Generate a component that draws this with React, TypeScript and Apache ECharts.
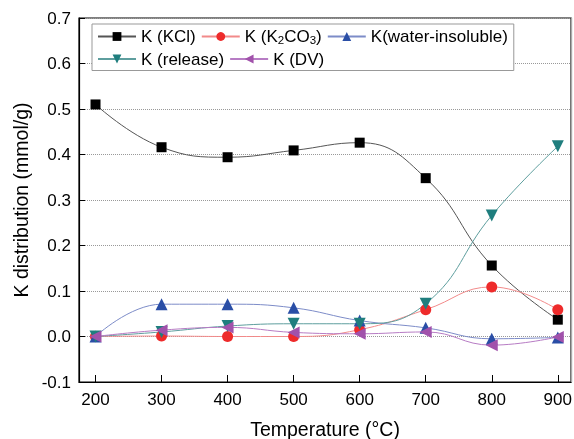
import React, { useEffect, useRef } from "react";
import * as echarts from "echarts";

const temperatures = [200, 300, 400, 500, 600, 700, 800, 900];
const xTicks = [200, 300, 400, 500, 600, 700, 800, 900];
const kKCl = [0.51, 0.416, 0.394, 0.409, 0.426, 0.348, 0.156, 0.037];
const kK2CO3 = [0.0, 0.001, 0.0, 0.0, 0.015, 0.059, 0.109, 0.059];
const kWaterInsoluble = [0.0, 0.071, 0.071, 0.063, 0.035, 0.019, -0.005, -0.002];
const kRelease = [0.0, 0.01, 0.023, 0.028, 0.028, 0.072, 0.266, 0.418];
const kDV = [0.0, 0.014, 0.02, 0.009, 0.006, 0.01, -0.019, -0.001];

const FONT = "'Liberation Sans', Arial, sans-serif";

function pairs(ys: number[]) {
  return temperatures.map((t, i) => [t, ys[i]]);
}

export default function App() {
  const ref = useRef<HTMLDivElement>(null);
  useEffect(() => {
    if (!ref.current) return;
    const chart = echarts.init(ref.current, null, { renderer: "svg" });
    const mk = (
      name: string,
      data: number[],
      lineColor: string,
      markColor: string,
      symbol: string,
      size: number,
      rotate = 0
    ) => ({
      name,
      type: "line",
      data: pairs(data),
      smooth: 0.45,
      symbol,
      symbolSize: size,
      symbolRotate: rotate,
      showAllSymbol: true,
      lineStyle: { color: lineColor, width: 1 },
      itemStyle: { color: markColor, borderWidth: 0 },
      xAxisIndex: 0,
      yAxisIndex: 0,
    });
    chart.setOption({
      animation: false,
      textStyle: { fontFamily: FONT },
      grid: {
        left: 79,
        right: 3,
        top: 18,
        bottom: 57,
        containLabel: false,
        outerBoundsMode: "none",
        show: true,
        borderColor: "#000",
        borderWidth: 1.2,
        backgroundColor: "transparent",
      },
      legend: {
        left: 92,
        top: 24,
        width: 425,
        padding: [4, 6, 3, 5],
        itemGap: 5,
        itemWidth: 38,
        itemHeight: 11,
        borderColor: "#999",
        borderWidth: 1,
        backgroundColor: "#fff",
        textStyle: {
          fontFamily: FONT,
          fontSize: 17,
          color: "#000",
          rich: {
            sub: { fontFamily: FONT, fontSize: 11.5, color: "#000", padding: [6, 0, 0, 0] },
          },
        },
        formatter: (name: string) =>
          name === "K (K2CO3)" ? "K (K{sub|2}CO{sub|3})" : name,
        data: ["K (KCl)", "K (K2CO3)", "K(water-insoluble)", "K (release)", "K (DV)"],
      },
      xAxis: [
        {
          type: "value",
          min: 175,
          max: 920,
          position: "bottom",
          name: "Temperature (°C)",
          nameLocation: "middle",
          nameGap: 37,
          nameTextStyle: { fontFamily: FONT, fontSize: 19.5, color: "#000" },
          axisLine: { show: true, onZero: false, lineStyle: { color: "#000", width: 1.2 } },
          axisTick: { show: true, inside: true, length: 7, customValues: xTicks, lineStyle: { color: "#000" } },
          axisLabel: { customValues: xTicks, fontSize: 17, color: "#000", margin: 9, fontFamily: FONT },
          splitLine: { show: false },
        },
      ],
      yAxis: [
        {
          type: "value",
          min: -0.1,
          max: 0.7,
          interval: 0.1,
          position: "left",
          name: "K distribution (mmol/g)",
          nameLocation: "middle",
          nameGap: 47,
          nameTextStyle: { fontFamily: FONT, fontSize: 19.5, color: "#000" },
          axisLine: { show: true, onZero: false, lineStyle: { color: "#000", width: 1.2 } },
          axisTick: { show: true, inside: true, length: 6, lineStyle: { color: "#000" } },
          axisLabel: {
            fontSize: 17,
            color: "#000",
            margin: 8,
            fontFamily: FONT,
            formatter: (v: number) => v.toFixed(1),
          },
          splitLine: { show: true, lineStyle: { color: "#999", type: "dotted", width: 1 } },
        },
        {
          type: "value",
          min: -0.1,
          max: 0.7,
          interval: 0.1,
          position: "right",
          axisLine: { show: true, onZero: false, lineStyle: { color: "#aaa", width: 1.4 } },
          axisTick: { show: false },
          axisLabel: { show: false },
          splitLine: { show: false },
        },
      ],
      series: [
        mk("K (KCl)", kKCl, "#555", "#000", "rect", 10),
        mk("K (K2CO3)", kK2CO3, "#f28a8a", "#ee2b2b", "circle", 11),
        mk("K(water-insoluble)", kWaterInsoluble, "#7d8cc8", "#2a4ea6", "triangle", 12),
        mk("K (release)", kRelease, "#5e9e9e", "#1f7e7e", "triangle", 12, 180),
        mk("K (DV)", kDV, "#b77cc4", "#a152ab", "triangle", 12, 90),
      ],
    });
    return () => chart.dispose();
  }, []);
  return (
    <div
      ref={ref}
      style={{ position: "fixed", left: 0, top: 0, width: 574, height: 439 }}
    />
  );
}
